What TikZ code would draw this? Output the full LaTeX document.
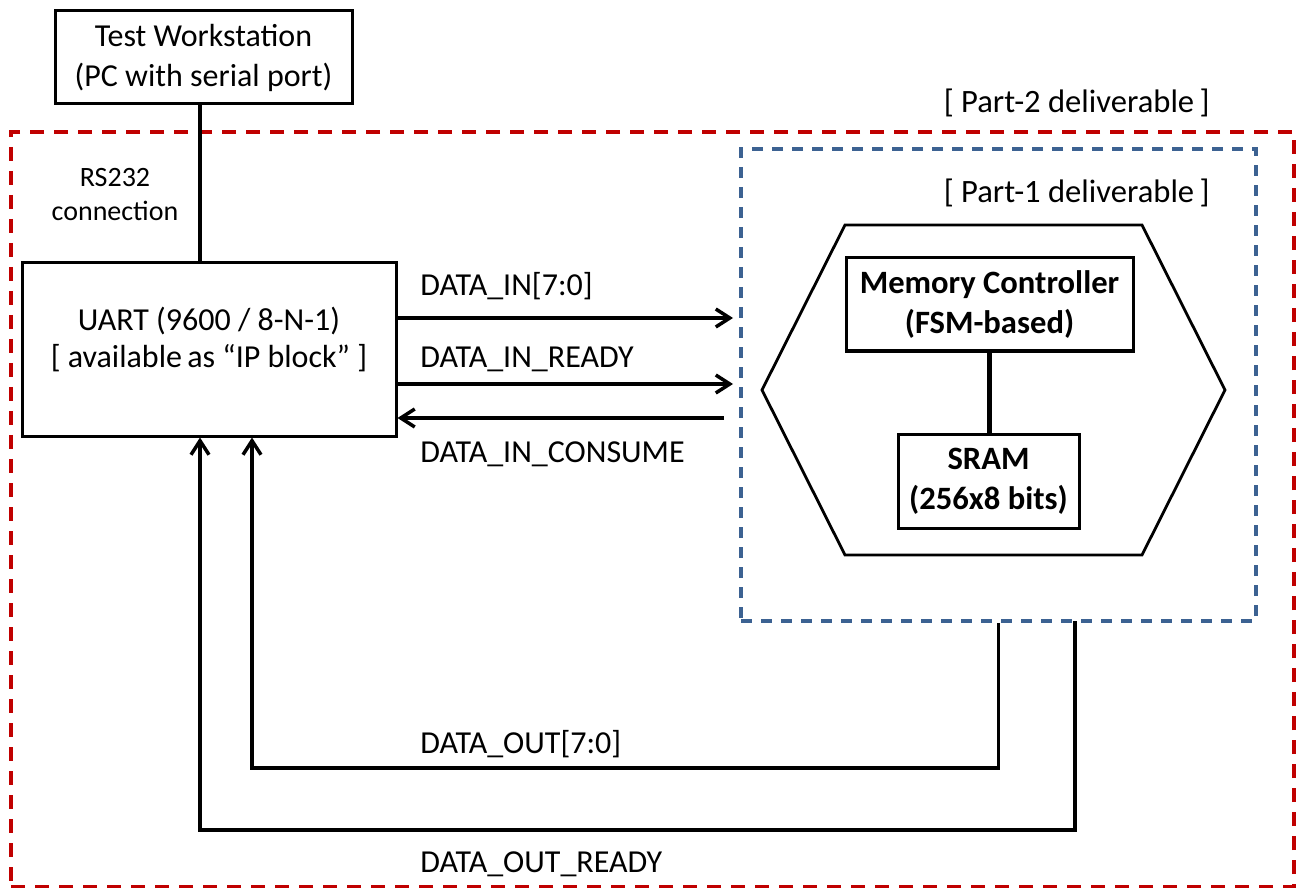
\documentclass[tikz,border=0pt]{standalone}
\usepackage{fontspec}
\setmainfont{Carlito}
\usepackage{xcolor}
\usepackage{tikz}
\usetikzlibrary{arrows.meta,positioning}
\definecolor{partred}{HTML}{C00000}
\definecolor{partblue}{RGB}{60,98,146}

\begin{document}
\begin{tikzpicture}[x=0.5pt, y=-0.5pt,
  box/.style={draw, line width=1.5pt, align=center, inner sep=0pt, font=\fontsize{16}{20}\selectfont},
  boldbox/.style={box, font=\fontsize{16.3}{20}\selectfont\bfseries},
  sig/.style={line width=1.75pt, -{Straight Barb[length=7pt, width=9pt]}},
  wire/.style={line width=1.75pt},
  lbl/.style={anchor=base west, inner sep=0pt, font=\fontsize{16}{20}\selectfont},
  partlbl/.style={anchor=east, inner sep=0pt, font=\fontsize{16.3}{20}\selectfont},
  part2/.style={draw=partred, line width=2pt, dash pattern=on 7pt off 5pt, minimum width=641.5pt, minimum height=377.5pt, inner sep=0pt},
  part1/.style={draw=partblue, line width=1.8pt, dash pattern=on 5.5pt off 4.5pt, minimum width=257.5pt, minimum height=236pt, inner sep=0pt}
]
\useasboundingbox (0,0) rectangle (1298,888);
\node[part2] (p2) at (652.5,509.5) {};
\node[part1] (p1) at (998.5,385) {};
\node[partlbl] (p2lbl) at (1210,103) {[ Part-2 deliverable\,]};
\node[partlbl] (p1lbl) at (1210,193) {[ Part-1 deliverable\,]};

\node[box, minimum width=148.5pt, minimum height=46.5pt] (pc) at (203.5,57.5) {Test Workstation\\(PC with serial port)};
\node[box, minimum width=187pt, minimum height=86.5pt] (uart) at (209,349.5) {};
\node[align=center, font=\fontsize{16}{18.5}\selectfont] (uarttxt) at (209,339) {UART (9600 / 8-N-1)\\{}[ available\,as “IP block” ]};
\node[align=center, font=\fontsize{14}{17}\selectfont] (rs) at (115,195) {RS232\\connection};
\draw[wire] ([xshift=-1.75pt]pc.south) -- ([xshift=-4.5pt]uart.north);

\coordinate (hl) at (762,390);
\draw[line width=1.4pt] (hl) -- (845,225) -- (1142,225) -- (1225,390) -- (1142,555) -- (845,555) -- cycle;
\node[boldbox, minimum width=143.5pt, minimum height=46.5pt] (mc) at (989.5,304.5) {Memory Controller\\(FSM-based)};
\node[boldbox, minimum width=90.5pt, minimum height=47pt] (sram) at (988.5,481) {SRAM\\(256x8 bits)};
\draw[line width=2.5pt] (mc.south) -- (sram.north -| mc.south);

\coordinate (inD) at (733,318);
\coordinate (inR) at (733,384);
\coordinate (inC) at (724,418);
\draw[sig] (uart.east |- inD) -- (inD);
\draw[sig] (uart.east |- inR) -- (inR);
\draw[sig] (inC) -- (uart.east |- inC);
\node[lbl] (lD) at (420,295.5) {DATA\_IN[7:0]};
\node[lbl] (lR) at (420,367) {DATA\_IN\_READY};
\node[lbl] (lC) at (420,462) {DATA\_IN\_CONSUME};

\coordinate (outD) at (252,768);
\coordinate (outR) at (200,830);
\coordinate (rdy) at (1075,621);
\draw[sig] (p1.south) |- (outD) -- (outD |- uart.south);
\draw[sig] (rdy) |- (outR) -- (outR |- uart.south);
\node[lbl] (lOD) at (420,753) {DATA\_OUT[7:0]};
\node[lbl] (lOR) at (420,872) {DATA\_OUT\_READY};
\end{tikzpicture}
\end{document}
